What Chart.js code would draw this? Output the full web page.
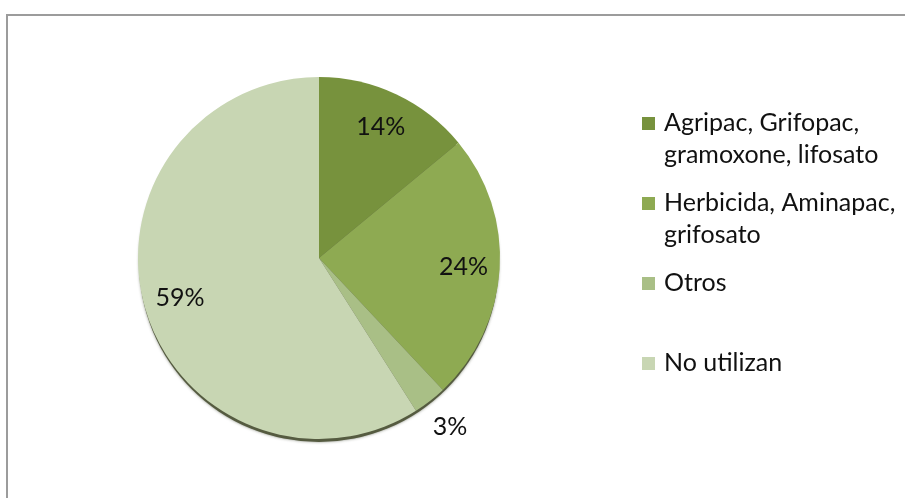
<!DOCTYPE html>
<html>
<head>
<meta charset="utf-8">
<script src="https://cdn.jsdelivr.net/npm/chart.js@4/dist/chart.umd.min.js"></script>
<style>
  body { margin: 0; background: #fff; }
  #wrap { position: relative; width: 905px; height: 498px; overflow: hidden; }
  #frame {
    position: absolute; left: 6px; top: 14px; width: 1000px; height: 1000px;
    border-left: 2px solid #9c9c9c; border-top: 2px solid #9c9c9c;
  }
  #herbChart { position: absolute; left: 0; top: 0; }
</style>
</head>
<body>
<div id="wrap">
  <div id="frame"></div>
  <canvas id="herbChart" width="905" height="498"></canvas>
</div>
<script>
const categorias = [
    ['Agripac, Grifopac,', 'gramoxone, lifosato'],
    ['Herbicida, Aminapac,', 'grifosato'],
    ['Otros'],
    ['No utilizan']
];
const porcentajes = [14, 24, 3, 59];
const colores = ['#77923d', '#8eaa52', '#a9bf86', '#c8d6b3'];

const fuente = '25px Lato, "Open Sans", sans-serif';

// sombra bajo el pastel
const sombra = {
    id: 'sombra',
    beforeDatasetsDraw(chart) {
        const arc = chart.getDatasetMeta(0).data[0];
        if (!arc) return;
        const ctx = chart.ctx;
        ctx.save();
        ctx.fillStyle = '#555b40';
        ctx.shadowColor = 'rgba(60,66,45,0.6)';
        ctx.shadowBlur = 3;
        ctx.beginPath();
        ctx.arc(arc.x, arc.y + 4, arc.outerRadius - 1, 0, Math.PI * 2);
        ctx.fill();
        ctx.restore();
    }
};

// porcentajes sobre cada sector
const etiquetas = {
    id: 'etiquetas',
    afterDatasetsDraw(chart) {
        const ctx = chart.ctx;
        const meta = chart.getDatasetMeta(0);
        ctx.save();
        ctx.font = fuente;
        ctx.fillStyle = '#111';
        ctx.textAlign = 'center';
        ctx.textBaseline = 'middle';
        meta.data.forEach((arc, i) => {
            const v = chart.data.datasets[0].data[i];
            const mid = (arc.startAngle + arc.endAngle) / 2;
            const f = v < 5 ? 1.18 : 0.8;
            const x = arc.x + Math.cos(mid) * arc.outerRadius * f;
            const y = arc.y + Math.sin(mid) * arc.outerRadius * f;
            ctx.fillText(v + '%', x, y);
        });
        ctx.restore();
    }
};

// leyenda a la derecha, entradas repartidas a igual distancia
const leyenda = {
    id: 'leyenda',
    afterDraw(chart) {
        const ctx = chart.ctx;
        const bg = chart.data.datasets[0].backgroundColor;
        ctx.save();
        ctx.font = fuente;
        ctx.textBaseline = 'alphabetic';
        chart.data.labels.forEach((lineas, i) => {
            const base = 131 + i * 80;
            ctx.fillStyle = bg[i];
            ctx.fillRect(642, base - 14, 13, 13);
            ctx.fillStyle = '#111';
            lineas.forEach((t, j) => ctx.fillText(t, 664, base + j * 32));
        });
        ctx.restore();
    }
};

new Chart(document.getElementById('herbChart'), {
    type: 'pie',
    data: {
        labels: categorias,
        datasets: [{
            data: porcentajes,
            backgroundColor: colores,
            borderWidth: 0
        }]
    },
    options: {
        responsive: false,
        animation: false,
        layout: { padding: { left: 138, right: 405, top: 77, bottom: 59 } },
        plugins: {
            legend: { display: false },
            tooltip: { enabled: false }
        }
    },
    plugins: [sombra, etiquetas, leyenda]
});
</script>
</body>
</html>
